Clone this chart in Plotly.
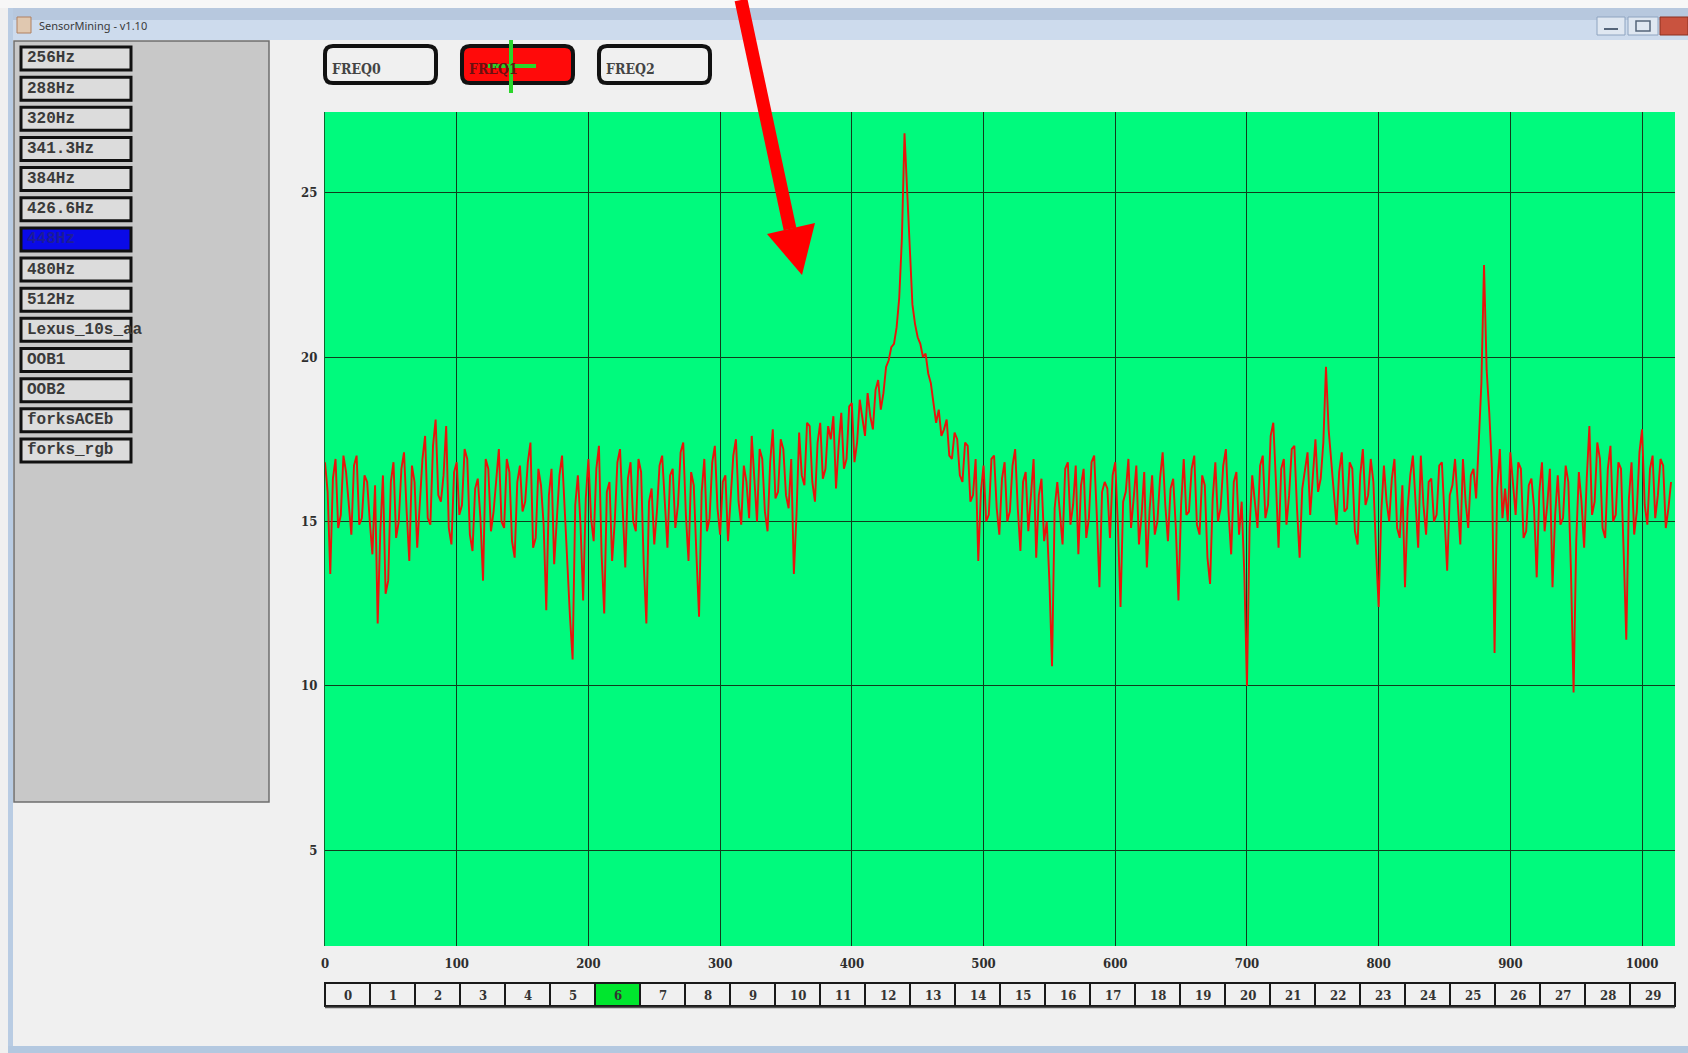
import plotly.graph_objects as go

# ---------------- data ----------------
sample_index = list(range(0, 1024, 2))
magnitude = [
    16.8, 15.9, 13.4, 16.3, 16.9, 14.8, 15.2, 17.0, 16.5, 15.4, 14.6, 16.7, 17.0, 14.9, 15.1, 16.4,
    16.2, 15.0, 14.0, 16.1, 11.9, 14.7, 16.4, 12.8, 13.2, 16.2, 16.8, 14.5, 15.0, 16.6, 17.1, 15.3,
    13.8, 16.7, 16.2, 14.2, 15.4, 16.9, 17.6, 15.1, 14.9, 17.3, 18.1, 15.8, 15.6, 16.4, 17.9, 14.8,
    14.3, 16.5, 16.8, 15.2, 15.5, 17.2, 16.9, 14.6, 14.1, 16.0, 16.3, 15.1, 13.2, 16.9, 16.6, 14.7,
    15.3, 16.4, 17.2, 15.0, 14.8, 16.9, 16.5, 14.4, 13.9, 16.2, 16.7, 15.3, 15.6, 16.8, 17.4, 14.2,
    14.5, 16.6, 16.1, 14.9, 12.3, 15.8, 16.6, 13.7, 14.9, 16.4, 17.0, 15.2, 13.4, 12.1, 10.8, 15.5,
    16.4, 14.9, 12.6, 15.7, 16.9, 15.1, 14.4, 16.6, 17.3, 14.0, 12.2, 15.9, 16.2, 13.8, 15.0, 16.8,
    17.2, 15.4, 13.6, 16.3, 16.8, 15.0, 14.7, 16.9, 16.5, 13.7, 11.9, 15.6, 16.0, 14.3, 15.3, 16.7,
    17.0, 15.6, 14.2, 16.4, 16.6, 14.8, 15.5, 17.1, 17.4, 15.2, 13.8, 16.5, 16.1, 14.0, 12.1, 15.9,
    16.9, 14.7, 15.1, 16.8, 17.3, 15.4, 14.6, 16.2, 16.4, 14.4, 15.8, 17.0, 17.5, 15.6, 14.9, 16.7,
    16.2, 15.1, 17.6, 16.3, 15.0, 17.2, 16.9, 15.3, 14.7, 16.8, 17.8, 15.7, 15.9, 17.5, 17.2, 15.8,
    15.4, 16.9, 13.4, 15.2, 17.7, 16.4, 16.1, 18.0, 17.9, 16.2, 15.6, 17.4, 18.0, 16.3, 16.6, 17.9,
    17.5, 18.2, 16.0, 17.3, 18.3, 16.6, 16.9, 18.5, 18.6, 16.8, 17.4, 18.7, 18.1, 17.6, 18.9, 18.2,
    17.8, 19.0, 19.3, 18.4, 18.9, 19.7, 19.9, 20.3, 20.4, 20.9, 21.8, 23.6, 26.8, 25.0, 22.9, 21.6,
    21.0, 20.6, 20.4, 20.0, 20.1, 19.5, 19.2, 18.6, 18.0, 18.4, 17.6, 17.8, 18.1, 17.0, 16.9, 17.7,
    17.5, 16.4, 16.2, 17.4, 17.3, 15.6, 15.8, 16.9, 13.8, 15.9, 16.7, 15.0, 15.2, 16.9, 17.0, 15.4,
    14.6, 16.3, 16.8, 15.0, 15.3, 16.7, 17.2, 15.4, 14.1, 16.2, 16.5, 14.7, 15.7, 16.9, 13.9, 15.8,
    16.3, 14.4, 15.0, 13.2, 10.6, 15.4, 16.2, 15.1, 14.3, 16.6, 16.8, 14.9, 15.5, 16.7, 14.0, 16.1,
    16.6, 14.5, 15.1, 16.8, 17.0, 15.2, 13.0, 15.9, 16.2, 16.0, 14.5, 16.4, 16.8, 14.9, 12.4, 15.6,
    15.9, 16.9, 14.8, 15.7, 16.7, 14.3, 15.2, 16.5, 13.6, 15.3, 16.4, 14.6, 15.0, 16.3, 17.1, 15.5,
    14.4, 16.0, 16.3, 14.8, 12.6, 15.5, 16.9, 15.2, 15.3, 16.6, 17.0, 14.9, 14.6, 16.4, 16.1, 13.9,
    13.1, 15.7, 16.8, 15.0, 15.4, 16.7, 17.2, 15.3, 14.0, 16.2, 16.5, 14.6, 15.6, 13.4, 10.0, 14.8,
    16.4, 15.6, 14.8, 16.7, 17.0, 15.1, 15.5, 17.6, 18.0, 16.2, 14.2, 16.6, 16.9, 14.9, 15.8, 17.2,
    17.3, 15.4, 13.9, 16.0, 16.6, 17.1, 15.2, 16.4, 17.5, 15.9, 16.3, 17.4, 19.7, 17.8, 16.8, 15.7,
    14.9, 16.5, 17.1, 15.3, 15.4, 16.8, 16.6, 14.7, 14.3, 16.4, 17.2, 15.5, 15.8, 16.9, 16.2, 14.1,
    12.4, 15.3, 16.7, 15.6, 15.0, 16.3, 16.9, 14.8, 14.5, 16.1, 13.0, 15.4, 16.4, 17.0, 15.7, 14.2,
    17.0, 15.5, 14.6, 16.2, 16.3, 15.0, 15.2, 16.7, 16.8, 14.9, 13.5, 15.8, 16.1, 16.9, 15.4, 14.3,
    16.9, 15.6, 14.8, 16.4, 16.6, 15.7, 17.4, 19.2, 22.8, 19.6, 18.3, 16.6, 11.0, 16.0, 17.2, 15.1,
    16.0, 15.0, 17.1, 16.2, 15.2, 16.8, 16.6, 14.5, 14.7, 16.1, 16.3, 15.4, 13.3, 15.9, 16.8, 14.7,
    15.5, 16.6, 13.0, 15.2, 16.4, 14.9, 15.1, 16.7, 16.2, 13.5, 9.8, 14.4, 16.5, 15.6, 14.2, 16.3,
    17.9, 15.2, 15.6, 17.4, 16.9, 14.8, 14.5, 16.6, 17.3, 15.0, 15.2, 16.8, 16.6, 14.1, 11.4, 15.7,
    16.8, 14.6, 15.3, 17.1, 17.8, 15.5, 14.9, 16.6, 17.0, 15.1, 15.8, 16.9, 16.7, 14.8, 15.4, 16.2,
]
x_ticks = [0, 100, 200, 300, 400, 500, 600, 700, 800, 900, 1000]
y_ticks = [5, 10, 15, 20, 25]
source_buttons = ["256Hz", "288Hz", "320Hz", "341.3Hz", "384Hz", "426.6Hz", "448Hz",
                  "480Hz", "512Hz", "Lexus_10s_aa", "OOB1", "OOB2", "forksACEb", "forks_rgb"]
selected_source = "448Hz"
freq_buttons = ["FREQ0", "FREQ1", "FREQ2"]
selected_freq = "FREQ1"
page_buttons = [str(i) for i in range(30)]
selected_page = "6"
window_title = "SensorMining - v1.10"

# ---------------- geometry (pixels) ----------------
W, H = 1688, 1053
L, R, T, B = 325, 1675, 112, 946


def fx(p):
    return (p - L) / (R - L)


def fy(p):
    return (B - p) / (B - T)


shapes = []
annotations = []


def rect(x0, y0, x1, y1, fill, line="rgba(0,0,0,0)", lw=0, layer="above"):
    shapes.append(dict(type="rect", xref="paper", yref="paper",
                       x0=fx(x0), x1=fx(x1), y0=fy(y1), y1=fy(y0),
                       fillcolor=fill, line=dict(color=line, width=lw), layer=layer))


def line(x0, y0, x1, y1, color, lw, layer="above"):
    shapes.append(dict(type="line", xref="paper", yref="paper",
                       x0=fx(x0), x1=fx(x1), y0=fy(y0), y1=fy(y1),
                       line=dict(color=color, width=lw), layer=layer))


def poly(points, fill, layer="above"):
    d = "M " + " L ".join(f"{fx(a):.5f},{fy(b):.5f}" for a, b in points) + " Z"
    shapes.append(dict(type="path", xref="paper", yref="paper", path=d,
                       fillcolor=fill, line=dict(color=fill, width=0), layer=layer))


def rrect(x0, y0, x1, y1, r, fill, line_c, lw):
    P = lambda a, b: f"{fx(a):.5f},{fy(b):.5f}"
    d = (f"M {P(x0 + r, y0)} L {P(x1 - r, y0)} Q {P(x1, y0)} {P(x1, y0 + r)} "
         f"L {P(x1, y1 - r)} Q {P(x1, y1)} {P(x1 - r, y1)} L {P(x0 + r, y1)} "
         f"Q {P(x0, y1)} {P(x0, y1 - r)} L {P(x0, y0 + r)} Q {P(x0, y0)} {P(x0 + r, y0)} Z")
    shapes.append(dict(type="path", xref="paper", yref="paper", path=d,
                       fillcolor=fill, line=dict(color=line_c, width=lw), layer="above"))


def text(x, y, s, size, color, family, xanchor="left", bold=False):
    annotations.append(dict(xref="paper", yref="paper", x=fx(x), y=fy(y), text=(f"<b>{s}</b>" if bold else s),
                            showarrow=False, xanchor=xanchor, yanchor="middle",
                            font=dict(size=size, color=color, family=family)))


MONO = "Liberation Mono, DejaVu Sans Mono, monospace"
SERIF = "DejaVu Serif Condensed, DejaVu Serif, serif"

# window chrome
rect(0, 0, W, 8, "#f7f7f7", layer="below")
rect(8, 8, W, 20, "#b7c8de", layer="below")
rect(8, 20, W, 40, "#cddbed", layer="below")
rect(8, 8, 13, H, "#b9cce3", layer="below")
rect(8, 1046, W, H, "#b3c8e0", layer="below")
rect(17, 17, 31, 33, "#e0c8b0", "#b08060", 1)
text(37, 26, window_title, 11, "#3a3a3a", "Noto Sans, sans-serif")
rect(1597, 17, 1625, 35, "#dfe7f1", "#8ea4c0", 1)
line(1604, 29, 1618, 29, "#55657a", 2)
rect(1628, 17, 1658, 35, "#dfe7f1", "#8ea4c0", 1)
rect(1636, 21, 1650, 31, "rgba(0,0,0,0)", "#55657a", 1.5)
rect(1660, 17, W, 35, "#c9533f", "#8a3020", 1)

# left panel
rect(14, 41, 269, 802, "#c8c8c8", "#6e6e6e", 1.5, layer="below")
for i, name in enumerate(source_buttons):
    y0 = 47 + i * 30.15
    sel = name == selected_source
    rect(21, y0, 131, y0 + 23, "#0a0ae8" if sel else "#dcdcdc", "#111111", 3)
    text(25, y0 + 11.5, name, 16, "#1c1c9a" if sel else "#3a3a3a", MONO, bold=True)

# frequency buttons
for i, name in enumerate(freq_buttons):
    x0 = 325 + i * 137
    sel = name == selected_freq
    rrect(x0, 46, x0 + 111, 83, 8, "#ff0a0a" if sel else "#f0f0f0", "#111111", 4)
    text(x0 + 5, 69, name, 14, "#6a1010" if sel else "#444444", SERIF, bold=True)
line(511, 40, 511, 93, "#2ad62a", 4)
line(488, 66, 536, 66, "#2ad62a", 4)

# page buttons
bw = (R - L) / len(page_buttons)
for i, name in enumerate(page_buttons):
    x0 = L + i * bw
    sel = name == selected_page
    rect(x0, 983, x0 + bw, 1006, "#00e62e" if sel else "#f0f0f0", "#1a1a1a", 2)
    text(x0 + bw / 2, 995, name, 13, "#333333", SERIF, xanchor="center", bold=True)
line(L, 1007.5, R, 1007.5, "#555555", 1.5)

# red arrow
line(741, 0, 790, 229, "#ff0000", 13)
poly([(767, 234), (815, 223), (802, 275)], "#ff0000")

fig = go.Figure()
fig.add_trace(go.Scatter(x=sample_index, y=magnitude, mode="lines",
                         line=dict(color="#e8140c", width=1.9), showlegend=False))

axis_font = dict(size=13, color="#2e2e2e", family=SERIF)
fig.update_layout(
    width=W, height=H,
    margin=dict(l=L, r=W - R, t=T, b=H - B, pad=0),
    paper_bgcolor="#f0f0f0", plot_bgcolor="#00fa7d",
    showlegend=False,
    xaxis=dict(range=[0, 1025], tickvals=x_ticks, ticktext=[f"<b>{v}</b>" for v in x_ticks],
               showgrid=True, gridcolor="#103c1c", gridwidth=1, zeroline=False,
               showline=False, ticks="", tickfont=axis_font, ticklabelstandoff=8),
    yaxis=dict(range=[2.09, 27.45], tickvals=y_ticks, ticktext=[f"<b>{v}</b>" for v in y_ticks],
               showgrid=True, gridcolor="#103c1c", gridwidth=1, zeroline=False,
               showline=True, linecolor="#0c6a30", linewidth=1, ticks="",
               tickfont=axis_font, ticklabelstandoff=4),
    shapes=shapes, annotations=annotations,
)

fig.write_html("out.html")
